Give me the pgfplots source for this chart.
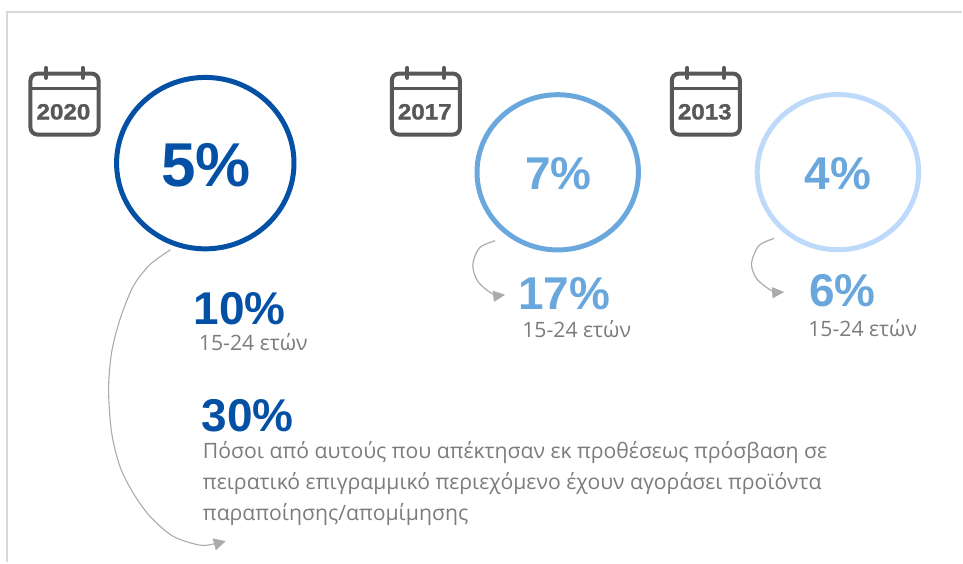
\documentclass[border=0pt]{standalone}
\usepackage{fontspec}
\setmainfont{Open Sans}
\newfontfamily\numfont{Liberation Sans}
\newfontfamily\iconfont{Liberation Sans}[BoldFeatures={FakeBold=1.3}]
\usepackage{pgfplots}
\pgfplotsset{compat=1.18}
\usetikzlibrary{arrows.meta}

\definecolor{blueA}{HTML}{0450A4}
\definecolor{blueB}{HTML}{6AA7DC}
\definecolor{blueC}{HTML}{BDDAFB}
\definecolor{iconc}{HTML}{58585A}
\definecolor{textc}{HTML}{7C7C7C}
\definecolor{arrowc}{HTML}{ABABAB}
\definecolor{framec}{HTML}{D9D9D9}

% calendar icon, #1 = x offset in px, #2 = year
\newcommand{\calicon}[2]{%
  \draw[iconc, line width=4pt, rounded corners=7pt] (axis cs:#1+30.5,73.7) rectangle (axis cs:#1+98.7,134.7);
  \draw[iconc, line width=3.4pt] (axis cs:#1+30.5,88.3) -- (axis cs:#1+98.7,88.3);
  \draw[iconc, line width=4pt, line cap=round] (axis cs:#1+46,68) -- (axis cs:#1+46,78);
  \draw[iconc, line width=4pt, line cap=round] (axis cs:#1+82.7,68) -- (axis cs:#1+82.7,78);
  \node[iconc, anchor=base, inner sep=0pt, font=\iconfont\bfseries\fontsize{22}{22}\selectfont] at (axis cs:#1+63.5,119.5) {\scalebox{1.1}[1]{#2}};
}
\newcommand{\pct}[5]{% x, baseline y, size, colour, text
  \node[#4, anchor=base, inner sep=0pt, font=\numfont\bfseries\fontsize{#3}{#3}\selectfont] at (axis cs:#1,#2) {#5};
}
\newcommand{\age}[2]{%
  \node[textc, anchor=base west, inner sep=0pt, font=\fontsize{21.2}{21.2}\selectfont] at (axis cs:#1,#2) {15-24 ετών};
}

\begin{document}
\begin{tikzpicture}
\begin{axis}[
  width=963pt, height=563pt, scale only axis,
  xmin=0, xmax=963, ymin=0, ymax=563,
  y dir=reverse, hide axis, clip=false,
]
\path (axis cs:0,0) rectangle (axis cs:963,563);

% frame
\addplot[framec, line width=2pt] coordinates {(7,563)(7,12)(963,12)};

% circles, a little wider than tall as in the picture
\addplot[only marks, mark=o, mark size=85.8pt, mark options={draw=blueA, line width=5pt, xscale=1.035}] coordinates {(205.5,163.3)};
\addplot[only marks, mark=o, mark size=77.7pt, mark options={draw=blueB, line width=5pt, xscale=1.04}] coordinates {(558.3,172.5)};
\addplot[only marks, mark=o, mark size=77.7pt, mark options={draw=blueC, line width=5pt, xscale=1.04}] coordinates {(838.8,172.3)};

% arrows
\addplot[arrowc, line width=1.1pt, smooth, -{Triangle[length=12pt,width=12pt]}] coordinates {(170.7,250)(150,265)(133.3,286.7)(120,320)(111.7,353)(108.7,390)(111.7,433)(120,466.7)(133,493)(150,516.7)(173,536.7)(200,545.7)(215,544.3)(226,541.7)};
\addplot[arrowc, line width=1.2pt, smooth, -{Triangle[length=12pt,width=11pt]}] coordinates {(495.7,241)(480,248)(473.3,265)(478.3,281.7)(493.3,294.3)(505.7,295)};
\addplot[arrowc, line width=1.2pt, smooth, -{Triangle[length=12pt,width=11pt]}] coordinates {(775,238.7)(759.5,246)(752.3,264)(757.5,279)(772.5,291)(785,292.3)};

\calicon{0}{2020}
\calicon{361.7}{2017}
\calicon{642}{2013}

\pct{206}{186.7}{62}{blueA}{5\%}
\pct{559}{190}{46}{blueB}{7\%}
\pct{839}{190}{46}{blueB}{4\%}
\pct{564.8}{310}{46}{blueB}{17\%}
\pct{843.5}{306.7}{46}{blueB}{6\%}
\pct{239.7}{325}{46}{blueA}{10\%}
\pct{248}{432}{46}{blueA}{30\%}

\age{199}{350.7}
\age{522.7}{338}
\age{809}{337.3}

\node[textc, anchor=base west, inner sep=0pt, font=\fontsize{21.2}{21.2}\selectfont] at (axis cs:203,459) {Πόσοι από αυτούς που απέκτησαν εκ προθέσεως πρόσβαση σε};
\node[textc, anchor=base west, inner sep=0pt, font=\fontsize{21.2}{21.2}\selectfont] at (axis cs:203,490) {πειρατικό επιγραμμικό περιεχόμενο έχουν αγοράσει προϊόντα};
\node[textc, anchor=base west, inner sep=0pt, font=\fontsize{21.2}{21.2}\selectfont] at (axis cs:203,521) {παραποίησης/απομίμησης};
\end{axis}
\end{tikzpicture}
\end{document}
